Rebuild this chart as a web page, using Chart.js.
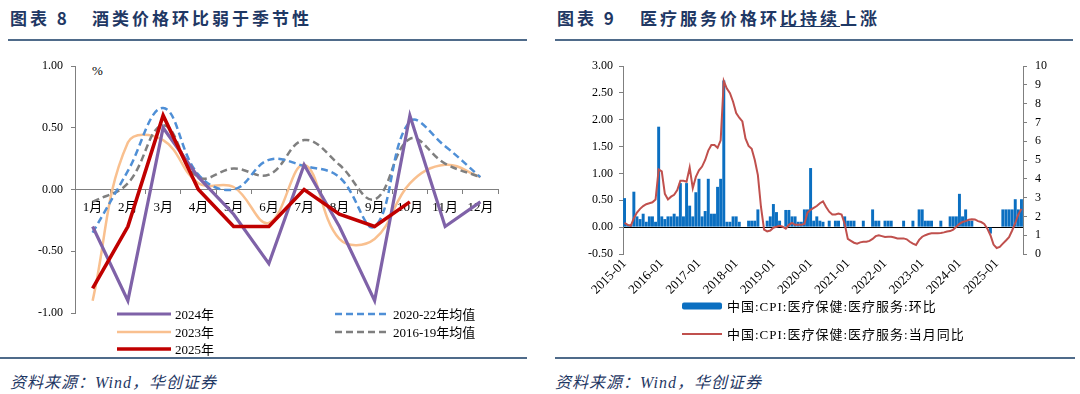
<!DOCTYPE html>
<html>
<head>
<meta charset="utf-8">
<script src="https://cdn.jsdelivr.net/npm/chart.js@4.4.1/dist/chart.umd.min.js"></script>
<style>
  body { margin: 0; background: #fff; width: 1080px; height: 394px; position: relative; overflow: hidden;
         font-family: 'Liberation Serif', 'Noto Sans CJK SC', serif; }
  .title { position: absolute; top: 5px; font: bold 17px 'Noto Sans CJK SC'; color: #1f3864; letter-spacing: 3px; white-space: nowrap; }
  .rule { position: absolute; height: 2px; background: #4f6b8a; }
  .src { position: absolute; top: 369px; font: italic 16px 'Liberation Serif', 'Noto Sans CJK SC'; color: #1f3864; letter-spacing: 1px; white-space: nowrap; }
  canvas { position: absolute; top: 45px; }
  .lg { position: absolute; display: flex; align-items: center; font-size: 13px; color: #000; white-space: nowrap; }
  .lg svg { margin-right: 4px; }
</style>
</head>
<body>
<div class="title" style="left:10px">图表 8</div>
<div class="title" style="left:92px">酒类价格环比弱于季节性</div>
<div class="title" style="left:557px">图表 9</div>
<div class="title" style="left:640px">医疗服务价格环<span style="text-decoration:underline">比持续</span>上涨</div>
<div class="rule" style="left:8px;top:39px;width:519px"></div>
<div class="rule" style="left:555px;top:39px;width:518px"></div>
<div class="rule" style="left:0px;top:357px;width:527px"></div>
<div class="rule" style="left:555px;top:357px;width:520px"></div>
<div class="src" style="left:10px">资料来源：Wind，华创证券</div>
<div class="src" style="left:555px">资料来源：Wind，华创证券</div>
<div style="position:absolute;left:92px;top:63px;font-size:13px">%</div>

<canvas id="liquorChart" width="540" height="310" style="left:0px"></canvas>
<canvas id="medChart" width="540" height="310" style="left:540px"></canvas>

<script>
// ---- 图表8 data ----
const months = ['1月', '2月', '3月', '4月', '5月', '6月', '7月', '8月', '9月', '10月', '11月', '12月'];
const y2024 = [-0.3, -0.9, 0.5, 0.1, -0.2, -0.6, 0.2, -0.3, -0.9, 0.6, -0.3, -0.1];
const y2023 = [-0.9, 0.38, 0.4, 0.05, 0.02, -0.27, 0.2, -0.4, -0.4, 0.05, 0.2, 0.1];
const y2025 = [-0.8, -0.3, 0.6, 0.0, -0.3, -0.3, 0.0, -0.2, -0.3, -0.1];
const avg2020_22 = [-0.35, 0.15, 0.66, 0.12, 0.0, 0.24, 0.19, 0.1, -0.3, 0.55, 0.35, 0.1];
const avg2016_19 = [-0.1, 0.05, 0.52, 0.1, 0.17, 0.12, 0.4, 0.2, -0.08, 0.41, 0.21, 0.1];

// ---- 图表9 data (2015-01 .. 2025-09) ----
const medMoM = [
  0.54, 0.05, 0.05, 0.66, 0.2, 0.15, 0.25, 0.1, 0.2, 0.2, 0.1, 1.87,
  0.2, 0.15, 0.2, 0.2, 0.25, 0.2, 0.82, 0.2, 0.82, 0.4, 0.2, 0.65,
  0.9, 0.2, 0.3, 0.9, 0.25, 0.25, 0.75, 0.9, 2.73, 0.1, 0.1, 0.2,
  0.2, 0.1, 0, 0, 0.12, 0.12, 0.12, 0.33, 0, 0, 0.12, 0.2,
  0.43, 0.28, 0.12, 0, 0.32, 0.32, 0.2, 0.2, 0.1, 0.1, 0.33, 0.33,
  1.1, 0.12, 0.2, 0.12, 0.1, 0, 0.12, 0, 0.12, 0.12, 0, 0.2,
  0.12, 0.12, 0.12, 0, 0, 0.12, 0, 0, 0.33, 0.12, 0.12, 0,
  0.12, 0.12, 0.12, 0, 0, 0, 0.12, 0, 0, 0.12, 0, 0.33,
  0.33, 0.12, 0.12, 0.12, 0, 0, 0.12, 0, 0, 0.2, 0.2, 0.2,
  0.62, 0.2, 0.33, 0.12, 0.12, 0, 0, 0, 0, 0, -0.12, 0,
  0, 0, 0.33, 0.33, 0.33, 0.33, 0.52, 0.33, 0.52
];
const medYoY = [
  1.65, 1.55, 1.5, 1.9, 2.2, 2.4, 2.55, 2.65, 2.7, 2.75, 2.9, 4.5,
  4.4, 3.2, 2.9, 3.05, 3.15, 3.4, 3.9, 3.9, 3.85, 4.6, 3.5, 4.1,
  4.45, 4.65, 5.0, 5.5, 5.8, 5.8, 5.65, 6.05, 9.2, 8.8, 8.55, 8.1,
  7.5, 7.25, 7.05, 6.15, 5.75, 5.6, 5.0, 4.2, 2.5, 1.3, 1.2, 1.25,
  1.4, 1.45, 1.5, 1.45, 1.35, 1.55, 1.65, 1.55, 1.55, 1.55, 1.6, 2.2,
  2.35, 2.45, 2.55, 2.7, 2.8, 2.5, 2.25, 2.1, 2.1, 2.15, 2.1, 1.6,
  0.8, 0.7, 0.6, 0.55, 0.62, 0.65, 0.65, 0.7, 0.8, 0.95, 1.0, 0.95,
  0.9, 0.92, 0.92, 0.88, 0.83, 0.83, 0.83, 0.78, 0.65, 0.55, 0.48, 0.75,
  0.92, 1.0, 1.06, 1.1, 1.1, 1.1, 1.12, 1.15, 1.2, 1.22, 1.3, 1.45,
  1.6, 1.7, 1.75, 1.82, 1.85, 1.84, 1.75, 1.7, 1.6, 1.35, 1.0, 0.5,
  0.32, 0.38, 0.55, 0.72, 0.9, 1.25, 1.65, 2.1, 2.4
];
const dates = [];
for (let i = 0; i < medMoM.length; i++) {
  const yr = 2015 + Math.floor(i / 12), m = i % 12 + 1;
  dates.push(yr + '-' + String(m).padStart(2, '0'));
}

Chart.defaults.font.family = "'Liberation Serif', 'Noto Sans CJK SC', serif";
Chart.defaults.color = '#000';
Chart.defaults.animation = false;
Chart.defaults.plugins.legend.display = false;
Chart.defaults.plugins.tooltip.enabled = false;

const axisGray = '#7f7f7f';

// html legend item with a line/box sample
function legendItem(left, top, text, sample, spacing) {
  const d = document.createElement('div');
  d.className = 'lg';
  d.style.left = left + 'px';
  d.style.top = (top - 9) + 'px';
  d.innerHTML = sample + '<span style="letter-spacing:' + (spacing || 0) + 'px">' + text + '</span>';
  document.body.appendChild(d);
}
function lineSample(color, width, dash) {
  return '<svg width="54" height="10"><line x1="0" y1="5" x2="54" y2="5" stroke="' + color +
    '" stroke-width="' + width + '" stroke-dasharray="' + dash.join(',') + '"/></svg>';
}

// ---- chart 8 ----
const liquorSets = [
  { label: '2024年', data: y2024, borderColor: '#7f62a8', borderWidth: 3.2, tension: 0, order: 1 },
  { label: '2023年', data: y2023, borderColor: '#f9c08f', borderWidth: 2.5, tension: 0.4, order: 4 },
  { label: '2025年', data: y2025, borderColor: '#c00000', borderWidth: 3.6, tension: 0, order: 0 },
  { label: '2020-22年均值', data: avg2020_22, borderColor: '#4f8fd6', borderWidth: 2.5, borderDash: [7, 4], tension: 0.4, order: 2 },
  { label: '2016-19年均值', data: avg2016_19, borderColor: '#7f7f7f', borderWidth: 2.5, borderDash: [7, 4], tension: 0.4, order: 3 }
];

new Chart(document.getElementById('liquorChart'), {
  type: 'line',
  data: {
    labels: months,
    datasets: liquorSets.map(s => Object.assign({ pointRadius: 0, fill: false, borderCapStyle: 'butt' }, s))
  },
  options: {
    responsive: false,
    layout: { padding: { left: 0, right: 42, top: 21, bottom: 42 } },
    scales: {
      x: {
        position: { y: 0 },
        offset: true,
        grid: { offset: true, drawOnChartArea: false, tickLength: 4, color: axisGray },
        border: { color: axisGray },
        ticks: { padding: 6, autoSkip: false, maxRotation: 0, font: { size: 13 } }
      },
      y: {
        min: -1, max: 1,
        ticks: { stepSize: 0.5, padding: 8, font: { size: 12 }, callback: v => v.toFixed(2) },
        grid: { drawOnChartArea: false, tickLength: 4, color: axisGray },
        border: { color: axisGray },
        afterFit: s => { s.width = 75; }
      }
    }
  }
});

const lgSlots = [[117, 313], [117, 331], [117, 348], [335, 313], [335, 331]];
liquorSets.forEach((s, i) => {
  legendItem(lgSlots[i][0], lgSlots[i][1], s.label, lineSample(s.borderColor, s.borderWidth, s.borderDash || []));
});

// ---- chart 9 ----
const medSets = [
  { type: 'bar', label: '中国:CPI:医疗保健:医疗服务:环比', data: medMoM, backgroundColor: '#0b6fc1',
    yAxisID: 'y', barPercentage: 0.95, categoryPercentage: 1, order: 2 },
  { type: 'line', label: '中国:CPI:医疗保健:医疗服务:当月同比', data: medYoY, borderColor: '#c0504d',
    borderWidth: 2, pointRadius: 0, tension: 0, yAxisID: 'y1', order: 1 }
];

new Chart(document.getElementById('medChart'), {
  type: 'bar',
  data: { labels: dates, datasets: medSets },
  options: {
    responsive: false,
    layout: { padding: { left: 0, right: 0, top: 21, bottom: 0 } },
    scales: {
      x: {
        offset: true,
        grid: { display: false },
        border: { display: false },
        ticks: { autoSkip: false, minRotation: 45, maxRotation: 45, padding: -6, font: { size: 13 },
                 callback: (v, i) => (i % 12 === 0 ? dates[i] : null) },
        afterFit: s => { s.height = 101; }
      },
      y: {
        position: 'left', min: -0.5, max: 3,
        ticks: { stepSize: 0.5, padding: 6, font: { size: 12 }, callback: v => v.toFixed(2) },
        grid: { color: c => (c.tick && c.tick.value === 0 ? '#000' : 'rgba(0,0,0,0)'), tickColor: axisGray, tickLength: 4 },
        border: { color: axisGray },
        afterFit: s => { s.width = 83; }
      },
      y1: {
        position: 'right', min: 0, max: 10,
        ticks: { stepSize: 1, padding: 8, font: { size: 12 } },
        grid: { drawOnChartArea: false, tickLength: 4, color: axisGray },
        border: { color: axisGray },
        afterFit: s => { s.width = 57; }
      }
    }
  }
});

legendItem(682, 305, medSets[0].label,
  '<svg width="41" height="10"><rect x="0" y="1.5" width="40" height="7" rx="2" fill="' + medSets[0].backgroundColor + '"/></svg>', 1);
legendItem(682, 333, medSets[1].label,
  '<svg width="41" height="10"><line x1="0" y1="5" x2="40" y2="5" stroke="' + medSets[1].borderColor + '" stroke-width="2"/></svg>', 1);
</script>
</body>
</html>
